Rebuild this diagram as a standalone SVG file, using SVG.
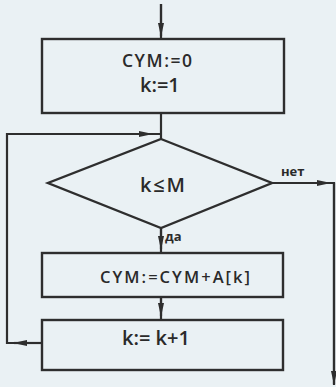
<svg xmlns="http://www.w3.org/2000/svg" width="336" height="387" viewBox="0 0 336 387">
  <defs>
    <marker id="arr" viewBox="0 0 14 6" refX="13" refY="3" markerWidth="14" markerHeight="6" markerUnits="userSpaceOnUse" orient="auto">
      <path d="M0,0 L14,3 L0,6 Z" fill="#2e2e2e"/>
    </marker>
    <style>
      .shape { fill: none; stroke: #2e2e2e; stroke-width: 2.4; }
      .line { fill: none; stroke: #2e2e2e; stroke-width: 2.2; }
      .t { font-family: "Open Sans", "DejaVu Sans", sans-serif; font-weight: 600; fill: #2a2a2a; }
      .lbl { font-family: "Open Sans", "DejaVu Sans", sans-serif; fill: #2a2a2a; font-weight: bold; font-size: 13px; }
    </style>
  </defs>
  <rect width="336" height="387" fill="#eaf1f4"/>

  <g id="connectors">
    <!-- entry -->
    <line class="line" x1="161" y1="4" x2="161" y2="39"/>
    <line class="line" x1="161" y1="4" x2="161" y2="36" marker-end="url(#arr)"/>
    <!-- init to condition -->
    <line class="line" x1="161" y1="113" x2="161" y2="139"/>
    <!-- loop back -->
    <polyline class="line" points="42,343 7,343 7,134 161,134"/>
    <line class="line" x1="42" y1="343" x2="14" y2="343" marker-end="url(#arr)"/>
    <line class="line" x1="7" y1="134" x2="152" y2="134" marker-end="url(#arr)"/>
    <!-- no branch -->
    <polyline class="line" points="272,183 334,183 334,385"/>
    <line class="line" x1="272" y1="183" x2="330" y2="183" marker-end="url(#arr)"/>
    <line class="line" x1="334" y1="183" x2="334" y2="384" marker-end="url(#arr)"/>
    <!-- yes branch -->
    <line class="line" x1="161" y1="228" x2="161" y2="253"/>
    <line class="line" x1="161" y1="228" x2="161" y2="249" marker-end="url(#arr)"/>
    <!-- sum to increment -->
    <line class="line" x1="161" y1="297" x2="161" y2="320"/>
    <line class="line" x1="161" y1="297" x2="161" y2="316" marker-end="url(#arr)"/>
    <text class="lbl" x="281" y="176">нет</text>
    <text class="lbl" x="165" y="241">да</text>
  </g>

  <g id="init">
    <rect class="shape" x="42" y="39" width="242" height="74"/>
    <text class="t" x="122" y="67" font-size="17.5" textLength="70" lengthAdjust="spacing">CYM:=0</text>
    <text class="t" x="140" y="92" font-size="20">k:=1</text>
  </g>

  <g id="condition">
    <polygon class="shape" points="161,139 272,183 161,228 48,183"/>
    <text class="t" x="140" y="192" font-size="20" textLength="45" lengthAdjust="spacing">k≤M</text>
  </g>

  <g id="sum">
    <rect class="shape" x="42" y="253" width="241" height="44"/>
    <text class="t" x="100" y="283" font-size="16.5" textLength="150" lengthAdjust="spacing">CYM:=CYM+A[k]</text>
  </g>

  <g id="increment">
    <rect class="shape" x="42" y="320" width="241" height="50"/>
    <text class="t" x="122" y="345" font-size="20">k:= k+1</text>
  </g>
</svg>
